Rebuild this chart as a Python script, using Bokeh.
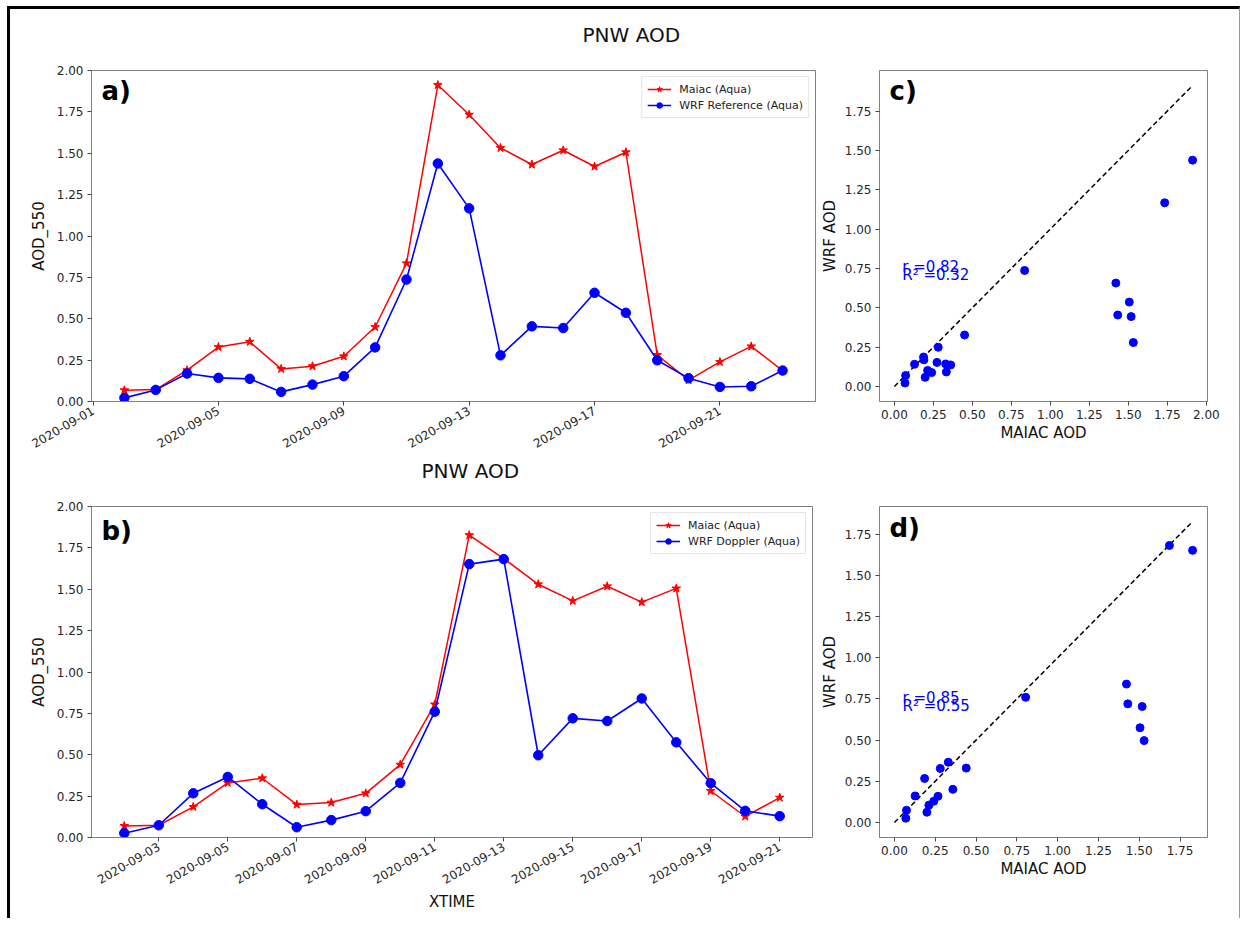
import math
import pandas as pd
from bokeh.plotting import figure
from bokeh.models import (Label, Legend, LegendItem, FixedTicker, DatetimeTickFormatter,
                          Range1d, NumeralTickFormatter, Title)
from bokeh.layouts import column, row
from bokeh.embed import file_html
from bokeh.resources import INLINE

# ---------------- data ----------------
suptitle = "PNW AOD"
dates_a = ["2020-09-02", "2020-09-03", "2020-09-04", "2020-09-05", "2020-09-06", "2020-09-07",
           "2020-09-08", "2020-09-09", "2020-09-10", "2020-09-11", "2020-09-12", "2020-09-13",
           "2020-09-14", "2020-09-15", "2020-09-16", "2020-09-17", "2020-09-18", "2020-09-19",
           "2020-09-20", "2020-09-21", "2020-09-22", "2020-09-23"]
maiac_a = [0.068, 0.072, 0.189, 0.329, 0.361, 0.197, 0.213, 0.273, 0.450, 0.835, 1.912, 1.733,
           1.532, 1.432, 1.518, 1.420, 1.506, 0.281, 0.129, 0.239, 0.333, 0.187]
wrf_ref = [0.022, 0.070, 0.169, 0.143, 0.137, 0.058, 0.102, 0.153, 0.327, 0.737, 1.438, 1.167,
           0.279, 0.454, 0.444, 0.657, 0.536, 0.249, 0.141, 0.088, 0.092, 0.187]

dates_b = ["2020-09-02", "2020-09-03", "2020-09-04", "2020-09-05", "2020-09-06", "2020-09-07",
           "2020-09-08", "2020-09-09", "2020-09-10", "2020-09-11", "2020-09-12", "2020-09-13",
           "2020-09-14", "2020-09-15", "2020-09-16", "2020-09-17", "2020-09-18", "2020-09-19",
           "2020-09-20", "2020-09-21"]
maiac_b = [0.070, 0.074, 0.185, 0.330, 0.358, 0.199, 0.211, 0.267, 0.440, 0.804, 1.827, 1.685,
           1.530, 1.430, 1.518, 1.422, 1.505, 0.281, 0.127, 0.241]
wrf_dop = [0.026, 0.074, 0.267, 0.366, 0.201, 0.062, 0.105, 0.159, 0.330, 0.760, 1.652, 1.682,
           0.497, 0.720, 0.704, 0.840, 0.575, 0.328, 0.161, 0.129]

ticks_a = ["2020-09-01", "2020-09-05", "2020-09-09", "2020-09-13", "2020-09-17", "2020-09-21"]
ticks_b = ["2020-09-03", "2020-09-05", "2020-09-07", "2020-09-09", "2020-09-11", "2020-09-13",
           "2020-09-15", "2020-09-17", "2020-09-19", "2020-09-21"]
aod_ticks = [0.0, 0.25, 0.5, 0.75, 1.0, 1.25, 1.5, 1.75, 2.0]
scatter_y_ticks = [0.0, 0.25, 0.5, 0.75, 1.0, 1.25, 1.5, 1.75]
scatter_x_ticks_c = [0.0, 0.25, 0.5, 0.75, 1.0, 1.25, 1.5, 1.75, 2.0]
scatter_x_ticks_d = [0.0, 0.25, 0.5, 0.75, 1.0, 1.25, 1.5, 1.75]

stats_c = ["r =0.82", "R² =0.32"]
stats_d = ["r =0.85", "R² =0.55"]

legend_maiac = "Maiac (Aqua)"
legend_ref = "WRF Reference (Aqua)"
legend_dop = "WRF Doppler (Aqua)"
panel_letters = ["a)", "b)", "c)", "d)"]

RED = "#ff0000"
BLUE = "#0000ff"
FONT = "DejaVu Sans"


def to_ms(strs):
    return [pd.Timestamp(s).value / 1e6 for s in strs]


def style(p):
    p.outline_line_color = "#808080"
    p.outline_line_width = 1
    p.xgrid.visible = False
    p.ygrid.visible = False
    p.background_fill_color = "white"
    p.border_fill_color = "white"
    for ax in p.axis:
        ax.axis_line_color = "#808080"
        ax.major_tick_line_color = "#444444"
        ax.major_tick_out = 4
        ax.major_tick_in = 0
        ax.minor_tick_line_color = None
        ax.major_label_text_font = FONT
        ax.major_label_text_font_size = "12px"
        ax.major_label_text_color = "#262626"
        ax.major_label_standoff = 4
        ax.axis_label_text_font = FONT
        ax.axis_label_text_font_size = "15px"
        ax.axis_label_text_font_style = "normal"
        ax.axis_label_text_color = "#111111"


def pad_range(vals):
    lo, hi = min(vals), max(vals)
    span = hi - lo
    return Range1d(lo - 0.05 * span, hi + 0.05 * span)


def time_panel(dates, maiac, wrf, ticks, wrf_label, letter, xlabel, width, height,
               mbl, mbr, mbt, mbb, title_offset, gap):
    x = pd.to_datetime(dates)
    xms = to_ms(dates)
    p = figure(width=width, height=height, output_backend="svg", toolbar_location=None,
               x_axis_type="datetime", min_border_left=mbl, min_border_right=mbr,
               min_border_top=mbt, min_border_bottom=mbb)
    p.x_range = pad_range(xms)
    p.y_range = Range1d(0, 2.0)
    r1 = p.line(x, maiac, color=RED, line_width=1.5)
    r2 = p.scatter(x, maiac, marker="star", size=9, color=RED)
    b1 = p.line(x, wrf, color=BLUE, line_width=1.6)
    b2 = p.scatter(x, wrf, marker="circle", size=9.5, color=BLUE)
    style(p)
    p.xaxis.ticker = FixedTicker(ticks=to_ms(ticks))
    fmt = "%Y-%m-%d"
    p.xaxis.formatter = DatetimeTickFormatter(days=fmt, months=fmt, years=fmt, hours=fmt,
                                              hourmin=fmt, minutes=fmt, minsec=fmt,
                                              seconds=fmt, milliseconds=fmt,
                                              microseconds=fmt)
    p.xaxis.major_label_orientation = math.pi / 6
    p.xaxis.major_label_text_font_size = "12px"
    p.yaxis.ticker = FixedTicker(ticks=aod_ticks)
    p.yaxis.formatter = NumeralTickFormatter(format="0.00")
    p.yaxis.axis_label = "AOD_550"
    p.yaxis.axis_label_standoff = 6
    if xlabel:
        p.xaxis.axis_label = xlabel
        p.xaxis.axis_label_standoff = 2
    legend = Legend(items=[LegendItem(label=legend_maiac, renderers=[r1, r2]),
                           LegendItem(label=wrf_label, renderers=[b1, b2])],
                    location="top_right")
    legend.label_text_font = FONT
    legend.label_text_font_size = "11px"
    legend.label_text_color = "#222222"
    legend.glyph_width = 24
    legend.glyph_height = 14
    legend.label_height = 14
    legend.spacing = 2
    legend.padding = 5
    legend.margin = 6
    legend.label_standoff = 8
    legend.border_line_color = "#cccccc"
    legend.border_line_width = 1
    legend.background_fill_alpha = 0.9
    p.add_layout(legend)
    p.add_layout(Label(x=10, y=height - mbt - mbb - 36 - (0 if letter == "a)" else 4),
                       x_units="screen", y_units="screen",
                       text=letter, text_font=FONT, text_font_size="26px",
                       text_font_style="bold", text_color="black"))
    # spacer (nearest the frame) and the title above it
    p.add_layout(Title(text=" ", text_font_size="1px", standoff=gap), "above")
    p.add_layout(Title(text=suptitle, text_font=FONT, text_font_size="20px",
                       text_font_style="normal", text_color="#111111", align="left",
                       offset=title_offset, standoff=0, vertical_align="middle"), "above")
    return p


def scatter_panel(maiac, wrf, xticks, stats, letter, width, height, mbl, mbr, mbt, mbb):
    p = figure(width=width, height=height, output_backend="svg", toolbar_location=None,
               min_border_left=mbl, min_border_right=mbr, min_border_top=mbt,
               min_border_bottom=mbb)
    p.x_range = pad_range([0.0] + maiac)
    p.y_range = pad_range([0.0] + maiac + wrf)
    top = max(maiac)
    p.line([0, top], [0, top], color="black", line_width=1.5, line_dash="5 3")
    p.scatter(maiac, wrf, marker="circle", size=8, color=BLUE)
    style(p)
    p.xaxis.ticker = FixedTicker(ticks=xticks)
    p.yaxis.ticker = FixedTicker(ticks=scatter_y_ticks)
    p.xaxis.formatter = NumeralTickFormatter(format="0.00")
    p.yaxis.formatter = NumeralTickFormatter(format="0.00")
    p.xaxis.axis_label = "MAIAC AOD"
    p.yaxis.axis_label = "WRF AOD"
    p.xaxis.axis_label_standoff = 2
    p.yaxis.axis_label_standoff = 3
    p.add_layout(Label(x=0.05, y=0.70, text=stats[0], text_font=FONT, text_font_size="15px",
                       text_color=BLUE))
    p.add_layout(Label(x=0.05, y=0.65, text=stats[1], text_font=FONT, text_font_size="15px",
                       text_color=BLUE))
    p.add_layout(Label(x=10, y=height - mbt - mbb - 36, x_units="screen", y_units="screen",
                       text=letter, text_font=FONT, text_font_size="26px",
                       text_font_style="bold", text_color="black"))
    return p


# content starts at (10, 9); frames: a/c top 70, b/d top 506
pa = time_panel(dates_a, maiac_a, wrf_ref, ticks_a, legend_ref, panel_letters[0], None,
                807, 446, 81, 2, 61, 53, 491, 20)
pc = scatter_panel(maiac_a, wrf_ref, scatter_x_ticks_c, stats_c, panel_letters[2],
                   422, 446, 62, 32, 61, 53)
pb = time_panel(dates_b, maiac_b, wrf_dop, ticks_b, legend_dop, panel_letters[1], "XTIME",
                807, 463, 81, 5, 51, 80, 330, 20)
pd_ = scatter_panel(maiac_b, wrf_dop, scatter_x_ticks_d, stats_d, panel_letters[3],
                    422, 463, 62, 32, 51, 81)

layout = column(row(pa, pc), row(pb, pd_), margin=(6, 0, 0, 7),
                styles={"border-top": "3px solid black", "border-left": "3px solid black",
                        "border-right": "1px solid #999999", "background-color": "white"})

open("out.html", "w").write(file_html(layout, INLINE, title="PNW AOD"))
